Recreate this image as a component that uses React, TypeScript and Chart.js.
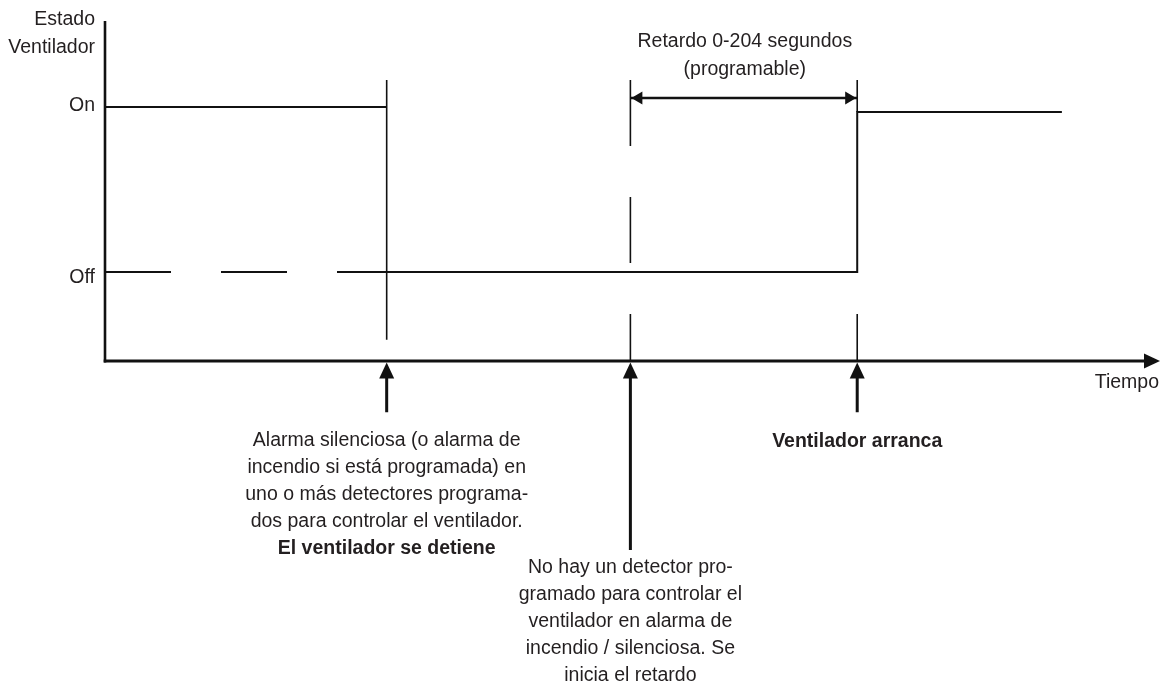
import React, { useEffect, useRef } from "react";
import { Chart, registerables } from "chart.js";

Chart.register(...registerables);

// ---- data (time axis 0..100, state axis 0..100) ----
const stateLabels = ["Off", "On"];
const stateLevels = [26.1, 74.5];
const onLevelAfterStart = 73.0;
const eventTimes = [26.7, 49.8, 71.3]; // stop, delay begins, fan starts
const signalEndTime = 90.7;
const markerTop = 82.4;
const marker1Bottom = 6.2;
const marker3GapBottom = 13.8;
const delayArrowLevel = 77.1;
const pointerEnds = [-15.0, -55.4, -15.0];
const axisTitleY = ["Estado", "Ventilador"];
const axisTitleX = "Tiempo";
const delayText = ["Retardo 0-204 segundos", "(programable)"];
const note1 = [
  "Alarma silenciosa (o alarma de",
  "incendio si está programada) en",
  "uno o más detectores programa-",
  "dos para controlar el ventilador.",
];
const note1Bold = "El ventilador se detiene";
const note2 = [
  "No hay un detector pro-",
  "gramado para controlar el",
  "ventilador en alarma de",
  "incendio / silenciosa. Se",
  "inicia el retardo",
];
const note3Bold = "Ventilador arranca";

const FONT = '"Liberation Sans", Arial, sans-serif';
const INK = "#111111";
const TEXT = "#231f20";

const seg = (pts: [number, number][]) => pts.map(([x, y]) => ({ x, y }));

export default function App() {
  const ref = useRef<HTMLCanvasElement | null>(null);

  useEffect(() => {
    if (!ref.current) return;
    const [OFF, ON] = stateLevels;
    const [t1, t2, t3] = eventTimes;

    const base = {
      type: "line" as const,
      showLine: true,
      pointRadius: 0,
      borderColor: INK,
      fill: false,
      tension: 0,
      clip: false as any,
    };

    const datasets: any[] = [
      { ...base, data: seg([[0, ON], [t1, ON]]), borderWidth: 2 },
      { ...base, data: seg([[0, OFF], [t1, OFF]]), borderWidth: 2, borderDash: [66, 50] },
      {
        ...base,
        data: seg([[t1, OFF], [t3, OFF], [t3, onLevelAfterStart], [signalEndTime, onLevelAfterStart]]),
        borderWidth: 2,
      },
      { ...base, data: seg([[t1, markerTop], [t1, marker1Bottom]]), borderWidth: 1.6 },
      { ...base, data: seg([[t2, markerTop], [t2, 0]]), borderWidth: 1.6, borderDash: [66, 51] },
      { ...base, data: seg([[t3, markerTop], [t3, onLevelAfterStart]]), borderWidth: 1.6 },
      { ...base, data: seg([[t3, marker3GapBottom], [t3, 0]]), borderWidth: 1.6 },
      { ...base, data: seg([[t2, delayArrowLevel], [t3, delayArrowLevel]]), borderWidth: 2.5 },
      ...eventTimes.map((t, i) => ({
        ...base,
        data: seg([[t, -3], [t, pointerEnds[i]]]),
        borderWidth: 3,
      })),
    ];

    const annot = {
      id: "annot",
      afterDraw(chart: any) {
        const ctx = chart.ctx as CanvasRenderingContext2D;
        const xs = chart.scales.x;
        const ys = chart.scales.y;
        const X = (v: number) => xs.getPixelForValue(v);
        const Y = (v: number) => ys.getPixelForValue(v);
        ctx.save();
        ctx.strokeStyle = INK;
        ctx.fillStyle = INK;
        ctx.lineCap = "butt";

        // axes
        ctx.lineWidth = 2.6;
        ctx.beginPath();
        ctx.moveTo(X(0), Y(100) + 1);
        ctx.lineTo(X(0), Y(0) + 1.5);
        ctx.stroke();
        ctx.lineWidth = 3;
        ctx.beginPath();
        ctx.moveTo(X(0) - 1.3, Y(0));
        ctx.lineTo(X(100) - 12, Y(0));
        ctx.stroke();
        ctx.beginPath();
        ctx.moveTo(X(100), Y(0));
        ctx.lineTo(X(100) - 16, Y(0) - 7.5);
        ctx.lineTo(X(100) - 16, Y(0) + 7.5);
        ctx.closePath();
        ctx.fill();

        // pointer heads (up arrows)
        eventTimes.forEach((t) => {
          const x = X(t);
          const y0 = Y(0) + 1.5;
          ctx.beginPath();
          ctx.moveTo(x, y0);
          ctx.lineTo(x - 7.5, y0 + 16);
          ctx.lineTo(x + 7.5, y0 + 16);
          ctx.closePath();
          ctx.fill();
        });

        // delay double arrow heads
        const ay = Y(delayArrowLevel);
        const l = X(t2) + 1;
        const r = X(t3) - 1;
        ctx.beginPath();
        ctx.moveTo(l, ay);
        ctx.lineTo(l + 11, ay - 6.5);
        ctx.lineTo(l + 11, ay + 6.5);
        ctx.closePath();
        ctx.fill();
        ctx.beginPath();
        ctx.moveTo(r, ay);
        ctx.lineTo(r - 11, ay - 6.5);
        ctx.lineTo(r - 11, ay + 6.5);
        ctx.closePath();
        ctx.fill();

        // texts
        ctx.fillStyle = TEXT;
        ctx.textBaseline = "middle";
        const reg = `19.5px ${FONT}`;
        const bold = `bold 19.5px ${FONT}`;
        ctx.font = reg;
        ctx.textAlign = "right";
        ctx.fillText(axisTitleY[0], X(0) - 10, Y(100));
        ctx.fillText(axisTitleY[1], X(0) - 10, Y(100) + 28);
        ctx.fillText(stateLabels[1], X(0) - 10, Y(ON) - 1);
        ctx.fillText(stateLabels[0], X(0) - 10, Y(OFF) + 6);
        ctx.fillText(axisTitleX, X(100) - 1, Y(0) + 22);

        ctx.textAlign = "center";
        const cx = (X(t2) + X(t3)) / 2 + 1;
        ctx.fillText(delayText[0], cx, Y(100) + 22);
        ctx.fillText(delayText[1], cx, Y(100) + 50);

        const lh = 26.9;
        const b1 = Y(0) + 80;
        note1.forEach((s, i) => ctx.fillText(s, X(t1), b1 + i * lh));
        ctx.font = bold;
        ctx.fillText(note1Bold, X(t1), b1 + note1.length * lh);
        ctx.fillText(note3Bold, X(t3), b1 + 1);
        ctx.font = reg;
        const b2 = Y(0) + 207;
        note2.forEach((s, i) => ctx.fillText(s, X(t2), b2 + i * lh));
        ctx.restore();
      },
    };

    const chart = new Chart(ref.current, {
      type: "line",
      data: { datasets },
      options: {
        responsive: false,
        animation: false,
        events: [],
        layout: { padding: { left: 105, right: 3, top: 20, bottom: 332 } },
        plugins: { legend: { display: false }, tooltip: { enabled: false } },
        scales: {
          x: { type: "linear", min: 0, max: 100, display: false },
          y: { type: "linear", min: 0, max: 100, display: false },
        },
      },
      plugins: [annot],
    });
    return () => chart.destroy();
  }, []);

  return (
    <div style={{ position: "absolute", left: 0, top: 0, width: 1163, height: 693, background: "#fff" }}>
      <canvas ref={ref} width={1163} height={693} style={{ display: "block" }} />
    </div>
  );
}
